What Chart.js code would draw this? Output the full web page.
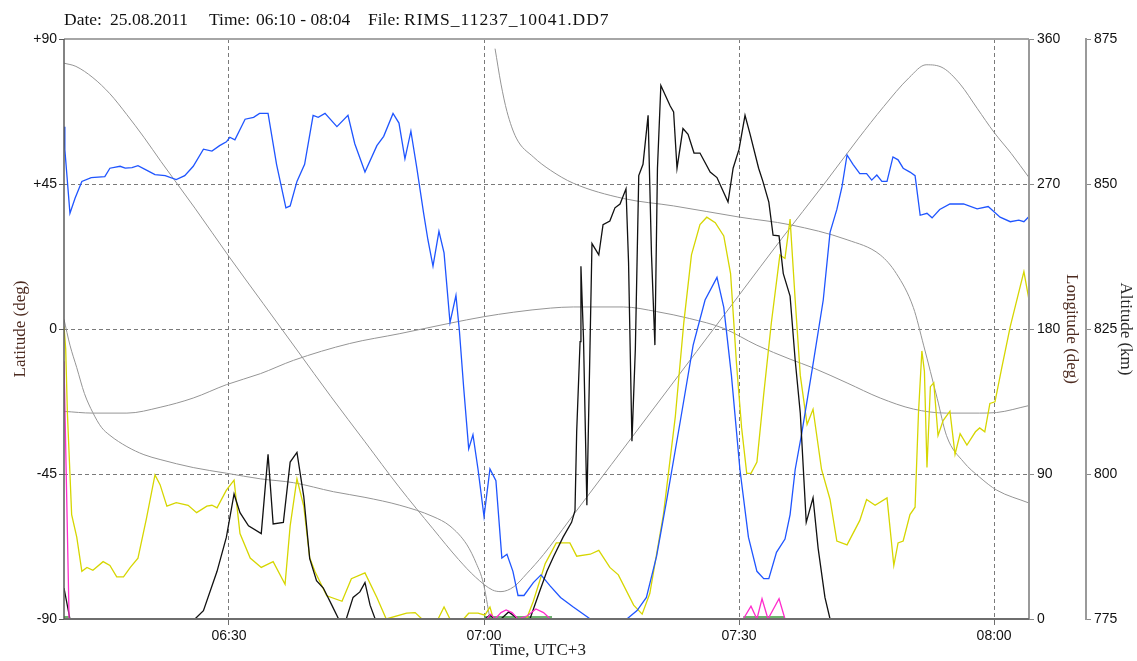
<!DOCTYPE html>
<html>
<head>
<meta charset="utf-8">
<script src="https://cdn.jsdelivr.net/npm/chart.js@4.4.0/dist/chart.umd.min.js"></script>
<style>
  body { margin: 0; background: #fff; }
  #wrap { position: relative; width: 1137px; height: 661px; }
  canvas { position: absolute; left: 0; top: 0; }
  #head span { position: absolute; top: 9px; font: 17.5px "Liberation Serif", "Times New Roman", serif; line-height: 20px; color: #111; white-space: pre; }
</style>
</head>
<body>
<div id="wrap">
  <canvas id="chart" width="1137" height="661"></canvas>
  <div id="head">
    <span style="left:64px">Date:</span>
    <span style="left:110px">25.08.2011</span>
    <span style="left:209px">Time:</span>
    <span style="left:256px">06:10 - 08:04</span>
    <span style="left:368px">File:</span>
    <span style="left:404px; letter-spacing:1px">RIMS_11237_10041.DD7</span>
  </div>
</div>
<script>
// time axis is in minutes after 06:00
const timeTicks = [30, 60, 90, 120];
const latTicks = [-90, -45, 0, 45, 90];
const lonTicks = [0, 90, 180, 270, 360];
const altTicks = [775, 800, 825, 850, 875];

// blue channel
const blueT = [10.6,10.7,11.3,11.9,12.7,13.8,15.4,16.0,17.2,17.8,
  18.6,19.3,20.3,21.3,22.5,23.8,24.8,25.8,27.0,28.0,
  28.9,29.7,30.1,30.7,31.9,32.9,33.6,34.6,35.6,36.7,
  37.2,38.0,38.9,39.9,40.5,41.3,42.7,44.0,44.8,46.0,
  47.4,48.2,49.3,50.0,50.7,51.4,52.1,52.9,53.4,54.0,
  54.7,55.3,56.0,56.7,57.1,57.6,58.2,58.7,59.3,60.0,
  60.7,61.4,62.1,62.7,63.4,64.0,64.7,65.8,66.7,67.8,
  69.0,70.5,72.5,76.8,78.0,79.1,80.3,81.5,83.1,84.6,
  86.0,87.4,88.2,89.1,90.1,91.1,92.1,92.9,93.5,94.4,
  95.4,96.0,96.6,97.4,98.7,99.9,100.7,101.5,102.1,102.7,
  103.4,104.2,105.0,105.6,106.2,106.8,107.4,108.1,108.7,109.3,
  110.1,110.7,111.3,112.1,112.7,113.6,114.8,116.4,118.0,119.3,
  120.7,121.9,122.9,123.5,124.1];
const blueV = [62.8,55.7,35.9,40.6,45.8,47,47.3,49.9,50.5,49.9,
  50.1,50.7,49.3,47.9,47.6,46.4,47.6,50.5,55.8,55.2,
  56.9,58.1,59.5,58.7,65.1,65.7,66.9,66.9,51.1,37.6,
  38.2,45.8,51.1,66.3,65.7,66.9,62.8,66.3,57.5,48.7,
  56.9,59.8,66.9,63.9,52.8,61.4,49.9,35.9,27.7,19.5,
  30.3,23.6,2.0,10.4,-0.4,-17.9,-37.2,-32.8,-43.6,-58.2,
  -43.4,-47.1,-71.1,-69.9,-75.2,-82.7,-82.7,-78.7,-76.3,-79.8,
  -83.3,-86.3,-90,-90,-87.4,-83.3,-70.5,-52.9,-28.4,-5.0,
  9.0,16.0,6.7,-14.4,-43.6,-64.6,-75.2,-77.5,-77.5,-69.3,
  -65.2,-57.6,-43.6,-31.9,-10.9,9.0,30.0,37.1,44.1,54,
  51.1,48.2,48.2,46.2,47.8,45.8,45.8,53.4,52.5,49.9,
  48.7,47.6,35.3,35.9,34.5,37.1,38.8,38.8,37.3,38,
  34.7,33.3,33.8,33.3,34.9];

// black channel
const blackT = [10.6,11.3,26.0,27.0,28.6,29.7,30.6,31.3,32.3,33.8,
  34.6,35.2,36.4,37.2,38.0,38.8,39.5,40.3,41.1,42.1,
  42.9,43.8,44.6,45.4,46.0,46.6,47.2,60.1,60.7,61.3,
  62.0,62.9,64.0,65.4,66.6,67.4,68.2,69.3,70.3,70.7,
  70.9,71.3,71.4,71.7,72.1,72.4,72.7,73.5,74.0,74.8,
  75.4,76.0,76.7,77.0,77.4,77.8,78.2,78.7,79.3,79.7,
  80.1,80.4,80.8,81.9,82.3,82.7,83.4,84.0,84.7,85.4,
  86.6,87.4,88.1,88.7,89.3,90.0,90.7,91.3,92.3,92.8,
  93.5,94.0,94.7,95.2,96.0,96.6,97.2,97.9,98.7,99.3,
  100.1,100.7,124.1];
const blackV = [-80.4,-90,-90,-87.4,-75.2,-64.6,-51.2,-57,-61.1,-63.5,
  -38.9,-60.5,-60,-41.3,-38.3,-52,-71.3,-78.1,-80.4,-85.7,
  -90,-90,-83.3,-81.6,-78.7,-85.7,-90,-90,-88.8,-90,
  -90,-87.8,-90,-90,-81,-75.2,-70.5,-64.6,-60,-56.4,
  -31.9,-3.9,19.5,-2.7,-54.7,-14.4,26.5,23,32.4,33.5,
  37.6,38.8,43.5,20.7,-34.8,-6.2,47.6,51.1,66.3,23,
  -5.0,49.9,75.6,69.2,67.4,49.9,62.2,60.4,54.6,54.6,
  48.7,47,42.9,39.4,49.9,55.8,66.3,60.4,49.9,45.8,
  39.4,29.1,28.9,17.2,10.2,-9.7,-26.1,-60,-52.4,-68.1,
  -83.3,-90,-90];

// yellow channel
const yellowT = [10.6,10.8,11.0,11.5,12.1,12.7,13.3,14.0,15.2,16.0,
  16.8,17.6,18.4,19.3,20.3,21.3,21.9,22.7,23.8,25.2,
  26.2,27.4,28.0,28.6,29.7,30.6,31.3,32.5,33.8,35.2,
  36.6,37.2,38.0,38.8,39.5,40.1,41.5,43.3,44.4,46.0,
  47.4,48.5,50.9,51.9,52.7,54.6,55.3,56.0,57.6,58.2,
  59.3,60.1,60.7,61.1,65.0,65.8,67.2,68.5,70.1,70.9,
  72.5,73.5,74.8,75.8,77.6,78.6,79.5,81.1,82.5,83.5,
  84.4,85.4,86.2,87.2,88.2,89.0,89.7,90.3,90.9,91.4,
  92.1,92.9,93.8,94.8,95.4,96.0,96.6,97.2,98.0,98.7,
  99.7,100.7,101.5,102.7,104.2,105.0,106.0,107.4,108.2,108.7,
  109.3,110.1,110.7,111.1,111.5,111.8,112.1,112.5,112.9,113.4,
  114.0,114.8,115.4,116.0,116.8,117.8,118.3,118.9,119.5,120.1,
  120.9,121.9,123.5,124.1];
const yellowV = [0.8,-6.2,-26.1,-57.6,-64.6,-75.2,-74,-74.9,-72.2,-73.4,
  -76.9,-76.9,-74,-71.1,-58.8,-45.3,-48.3,-55,-53.9,-54.7,
  -57,-55,-54.7,-55.5,-50,-46.9,-63.5,-71.1,-74,-72.2,
  -79.2,-61.1,-46.5,-55,-71,-75.2,-82.8,-84.5,-77.5,-75.7,
  -83.3,-90,-88.2,-88,-90,-90,-86.3,-90,-90,-88.2,
  -88.2,-88.8,-86.3,-90,-90,-84.5,-72.8,-66.4,-66.4,-70.5,
  -69.9,-68.7,-74,-76.3,-85.7,-88.5,-82.1,-57.6,-27.2,2.0,
  23,32.4,34.7,33,28.9,17.2,-10.9,-30.7,-44.8,-44.8,
  -41.3,-20.2,2.0,23,21.9,34.1,9.0,-14.4,-29.6,-24.9,
  -43.6,-52.9,-65.8,-67,-59.4,-52.9,-54.7,-52.4,-73.4,-66.4,
  -65.8,-57.6,-55.3,-26.1,-6.8,-13.2,-43,-17.9,-16.7,-33.1,
  -28.4,-25.5,-38.9,-32.5,-36,-31.9,-30.7,-31.9,-23.1,-22.6,
  -12,0.8,17.8,9.0];

// magenta channel
const magentaT = [10.6,10.9,11.2,60.3,60.8,61.3,62.0,62.6,63.3,64.0,65.1,66.1,67.0,67.8,90.5,91.4,92.1,92.7,93.4,94.7,95.4];
const magentaV = [-10,-50,-90,-90,-88.5,-90,-88,-87.2,-88,-90,-89,-86.9,-88,-90,-90,-86,-90,-83.7,-90,-83.7,-90];

// green channel (only shows as a trace on the bottom edge)
const greenT = [10.6,11.3,11.4,60.0,68.0,68.1,90.5,95.4];
const greenV = [-89.4,-89.4,null,-89.4,-89.4,null,-89.4,-89.4];

// satellite latitude (deg)
const satLatT = [10.6,12,14,16,18,20,22,26,30,34,38,42,46,50,54,57,59,61,62,63.5,
  65,67,70,75,80,85,90,95,100,104,107,110,112,114,116,118,120,122,124.1];
const satLatV = [82.5,81.5,78,73,66.5,59.5,52,37.5,22.5,8,-6.5,-21,-35,-49,-62,-71.5,-77,-81,-81.5,-80,
  -76,-70,-59.5,-42,-24.5,-7,10.5,28,45,59,69,78,82,81,76,68.5,61,54.5,47];

// satellite longitude (deg), wraps through 0/360 just after 07:00
const satLonT = [10.6,11.3,12.1,13.0,14.0,15.0,16.0,18.0,20.0,21.9,
  25.8,29.7,33.7,37.6,42.3,46.0,50.1,54.0,56.0,58.0,
  59.1,59.9,60.7,60.8,61.3,62.0,62.7,63.8,65.8,67.8,
  70.5,76.4,82.3,90.1,96.0,102.7,106.6,108.5,110.5,111.7,
  113.3,114.4,116.4,118.3,120.3,124.1];
const satLonV = [186,170,156,140,128,119,114,107,102,99,
  94,90.5,87,84.6,79,75.5,70.6,63.6,57.7,46,
  34.4,22.7,0,null,354,332,315,298.5,286.8,278.6,
  270.5,261,256.4,249.4,244.7,235.4,226,214.4,193.3,170,
  137,113.8,97.5,88,80,72];

// satellite altitude (km)
const satAltT = [10.6,14,18,21.9,25.8,29.7,33.7,37.6,44.2,50.1,56,59.9,63.5,67.8,70.5,
  76.4,80.3,84.2,88.2,92.1,96,98.7,102.7,106.6,110.5,114.4,118.3,120.3,124.1];
const satAltV = [810.8,810.5,810.5,811.5,813.1,815.4,817.3,819.6,822.5,824.2,826,827.1,827.9,828.6,828.8,
  828.8,828,826.8,825.1,822.2,819.8,818.3,815.7,813.1,811.2,810.5,810.5,810.6,811.8];

const tickFont = { family: '"Liberation Sans", Arial, sans-serif', size: 14 };
const titleFont = { family: '"Liberation Serif", "Times New Roman", serif', size: 17 };

function toPoints(ts, vs) {
  return ts.map((t, i) => ({ x: t, y: vs[i] }));
}

function series(ts, vs, color, axis, width, smooth) {
  return {
    data: toPoints(ts, vs),
    borderColor: color,
    borderWidth: width,
    yAxisID: axis,
    pointRadius: 0,
    fill: false,
    spanGaps: false,
    tension: smooth ? 0.4 : 0,
    cubicInterpolationMode: smooth ? 'monotone' : 'default'
  };
}

function fixedTicks(vals) {
  return scale => { scale.ticks = vals.map(v => ({ value: v })); };
}

function timeLabel(v) {
  const h = 6 + Math.floor(v / 60), m = v % 60;
  return String(h).padStart(2, '0') + ':' + String(m).padStart(2, '0');
}

// plot frame drawn on top of the data, like the original
const frame = {
  id: 'frame',
  afterDatasetsDraw(chart) {
    const { ctx, chartArea: a } = chart;
    const seg = (x1, y1, x2, y2, color, w) => {
      ctx.beginPath();
      ctx.strokeStyle = color;
      ctx.lineWidth = w;
      ctx.moveTo(x1, y1);
      ctx.lineTo(x2, y2);
      ctx.stroke();
    };
    ctx.save();
    seg(a.left, a.top, a.right, a.top, '#a6a6a6', 2);
    seg(a.right, a.top, a.right, a.bottom, '#9a9a9a', 2);
    seg(a.left, a.bottom, a.right, a.bottom, '#6e6e6e', 2);
    seg(a.left, a.top, a.left, a.bottom, '#5a5a5a', 1.5);
    ctx.restore();
  }
};

const noGridAtEdges = c => Math.abs(c.tick.value) === 90 ? 'rgba(0,0,0,0)' : '#7a7a7a';

new Chart(document.getElementById('chart'), {
  type: 'line',
  data: {
    datasets: [
      series(magentaT, magentaV, '#ff2ccc', 'lat', 1.3, false),
      series(blackT, blackV, '#111111', 'lat', 1.3, false),
      series(blueT, blueV, '#1f55ff', 'lat', 1.3, false),
      series(yellowT, yellowV, '#d6d600', 'lat', 1.3, false),
      series(greenT, greenV, '#3f9a3f', 'lat', 1.5, false),
      series(satLatT, satLatV, '#959595', 'lat', 1, true),
      series(satLonT, satLonV, '#959595', 'lon', 1, true),
      series(satAltT, satAltV, '#959595', 'alt', 1, true)
    ]
  },
  options: {
    responsive: false,
    animation: false,
    devicePixelRatio: 1,
    layout: { padding: { top: 39, left: 0, right: 0, bottom: 0 } },
    plugins: { legend: { display: false }, tooltip: { enabled: false } },
    scales: {
      x: {
        type: 'linear',
        position: 'bottom',
        min: 10.6,
        max: 124.1,
        afterBuildTicks: fixedTicks(timeTicks),
        afterFit: s => { s.height = 42; },
        ticks: { callback: timeLabel, font: tickFont, color: '#111', padding: 3, maxRotation: 0, autoSkip: false },
        grid: { color: '#7a7a7a', tickColor: '#6e6e6e', tickLength: 6, lineWidth: 1 },
        border: { display: false, dash: [4, 3] },
        title: { display: true, text: 'Time, UTC+3\u2002\u2002', font: titleFont, color: '#1a1a1a', padding: { top: 0, bottom: 0 } }
      },
      lat: {
        position: 'left',
        min: -90,
        max: 90,
        afterBuildTicks: fixedTicks(latTicks),
        afterFit: s => { s.width = 64; },
        ticks: { callback: v => v > 0 ? '+' + v : String(v), font: tickFont, color: '#111', padding: 2 },
        grid: { color: noGridAtEdges, tickColor: '#5a5a5a', tickLength: 5, lineWidth: 1 },
        border: { display: false, dash: [4, 3] },
        title: { display: true, text: 'Latitude (deg)', font: titleFont, color: '#4d2b20', padding: { top: 10, bottom: 0 } }
      },
      lon: {
        position: 'right',
        min: 0,
        max: 360,
        afterBuildTicks: fixedTicks(lonTicks),
        afterFit: s => { s.width = 57; },
        ticks: { font: tickFont, color: '#111', padding: 3 },
        grid: { drawOnChartArea: false, tickColor: '#8a8a8a', tickLength: 5 },
        border: { display: false },
        title: { display: true, text: 'Longitude (deg)', font: titleFont, color: '#4d2b20', padding: { top: 4, bottom: 0 } }
      },
      alt: {
        position: 'right',
        min: 775,
        max: 875,
        afterBuildTicks: fixedTicks(altTicks),
        afterFit: s => { s.width = 51; },
        ticks: { font: tickFont, color: '#111', padding: 3 },
        grid: { drawOnChartArea: false, tickColor: '#8a8a8a', tickLength: 5 },
        border: { display: true, color: '#9a9a9a', width: 2 },
        title: { display: true, text: 'Altitude (km)', font: titleFont, color: '#2a2a2a', padding: { top: 1, bottom: 0 } }
      }
    }
  },
  plugins: [frame]
});
</script>
</body>
</html>
